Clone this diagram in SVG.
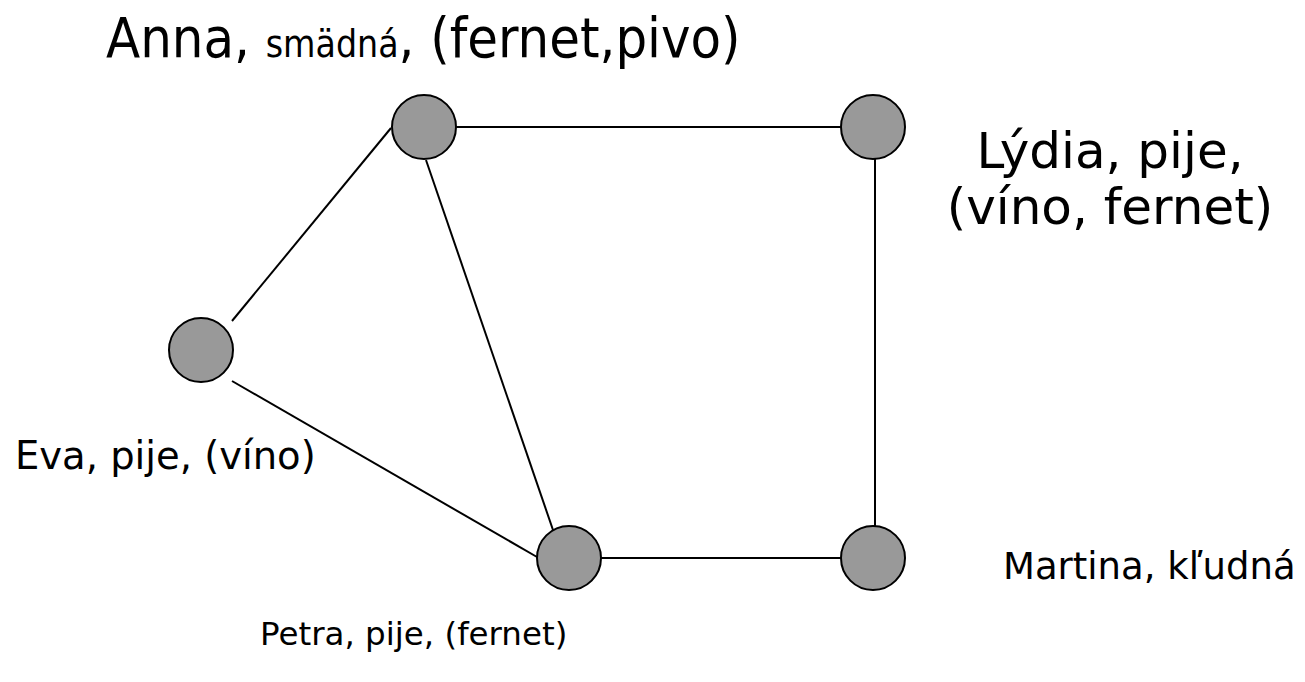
<svg xmlns="http://www.w3.org/2000/svg" width="1305" height="682" viewBox="0 0 1305 682">
<style>
.n{fill:#999999;stroke:#000;stroke-width:2}
.e{stroke:#000;stroke-width:2;fill:none}
.t{font-family:"DejaVu Sans","Verdana",sans-serif;fill:#000}
.c{font-family:"DejaVu Sans Condensed","DejaVu Sans",sans-serif;fill:#000}
</style>
<rect width="1305" height="682" fill="#fff"/>
<g id="edges">
<line class="e" x1="456" y1="127" x2="841" y2="127"/>
<line class="e" x1="391" y1="128" x2="232" y2="321"/>
<line class="e" x1="426" y1="160" x2="553" y2="530"/>
<line class="e" x1="232" y1="381" x2="537" y2="557"/>
<line class="e" x1="875" y1="159" x2="875" y2="526"/>
<line class="e" x1="601" y1="558" x2="841" y2="558"/>
</g>
<g id="anna"><circle class="n" cx="424" cy="127" r="32"/>
<text class="c" x="106" y="57" font-size="55.5">Anna, <tspan font-size="37">smädná</tspan>, (fernet,pivo)</text></g>
<g id="lydia"><circle class="n" cx="873" cy="127" r="32"/>
<text class="t" x="1110" y="168" font-size="50" text-anchor="middle">Lýdia, pije,</text>
<text class="t" x="1110" y="224" font-size="50" text-anchor="middle">(víno, fernet)</text></g>
<g id="eva"><circle class="n" cx="201" cy="350" r="32"/>
<text class="t" x="15" y="469" font-size="38.5">Eva, pije, (víno)</text></g>
<g id="petra"><circle class="n" cx="569" cy="558" r="32"/>
<text class="t" x="260" y="645" font-size="32.5">Petra, pije, (fernet)</text></g>
<g id="martina"><circle class="n" cx="873" cy="558" r="32"/>
<text class="t" x="1003" y="579" font-size="37">Martina, kľudná</text></g>
</svg>
